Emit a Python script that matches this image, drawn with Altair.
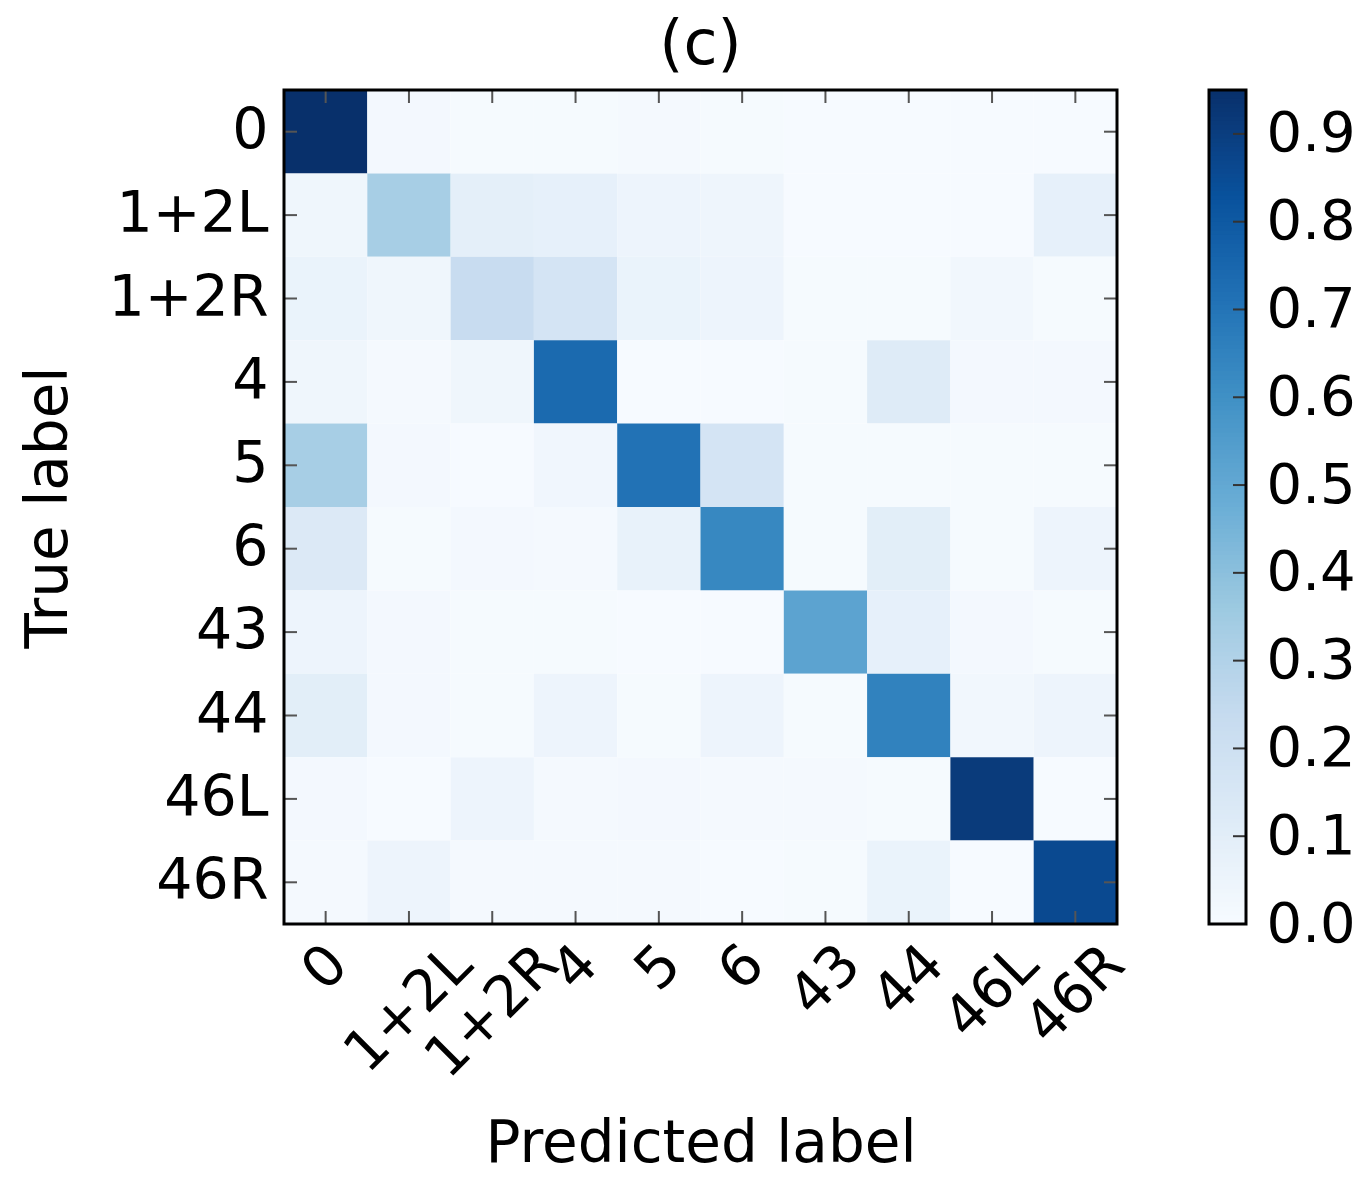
import altair as alt
import pandas as pd
import numpy as np

labels = ["0", "1+2L", "1+2R", "4", "5", "6", "43", "44", "46L", "46R"]

row_0    = [0.95, 0.02, 0.01, 0.01, 0.015, 0.01, 0.005, 0.005, 0.005, 0.005]
row_12L  = [0.04, 0.33, 0.09, 0.08, 0.05, 0.045, 0.005, 0.005, 0.005, 0.08]
row_12R  = [0.06, 0.04, 0.23, 0.17, 0.06, 0.05, 0.01, 0.01, 0.03, 0.01]
row_4    = [0.04, 0.015, 0.04, 0.74, 0.005, 0.005, 0.01, 0.12, 0.02, 0.02]
row_5    = [0.33, 0.02, 0.005, 0.035, 0.71, 0.17, 0.01, 0.01, 0.01, 0.01]
row_6    = [0.13, 0.01, 0.02, 0.015, 0.07, 0.63, 0.01, 0.10, 0.01, 0.05]
row_43   = [0.05, 0.02, 0.01, 0.01, 0.005, 0.005, 0.52, 0.08, 0.02, 0.01]
row_44   = [0.10, 0.02, 0.01, 0.05, 0.01, 0.05, 0.01, 0.65, 0.03, 0.05]
row_46L  = [0.02, 0.005, 0.05, 0.015, 0.02, 0.015, 0.015, 0.01, 0.91, 0.005]
row_46R  = [0.015, 0.05, 0.015, 0.015, 0.015, 0.005, 0.01, 0.06, 0.005, 0.86]

rows = [row_0, row_12L, row_12R, row_4, row_5, row_6, row_43, row_44, row_46L, row_46R]

cb_ticks = [0.0, 0.1, 0.2, 0.3, 0.4, 0.5, 0.6, 0.7, 0.8, 0.9]
cb_max = 0.95

blues = ["#f7fbff", "#deebf7", "#c6dbef", "#9ecae1", "#6baed6",
         "#4292c6", "#2171b5", "#08519c", "#08306b"]

records = [{"true": labels[i], "pred": labels[j], "v": rows[i][j]}
           for i in range(len(labels)) for j in range(len(labels))]
df = pd.DataFrame(records)
tick_df = pd.DataFrame({"pred": labels, "true": labels})

color_scale = alt.Scale(domain=[i * cb_max / 8 for i in range(9)], range=blues)

FONT = "DejaVu Sans"
W = 833
H = 834

# horizontal shift of rotated x labels so each rotated label box is centred on its tick
label_shift = {"0": 13, "1+2L": 54, "1+2R": 57, "4": 13, "5": 13, "6": 13,
               "43": 26, "44": 26, "46L": 37, "46R": 40}
offset_cond = {"condition": [{"test": f"datum.value == '{k}'", "value": v}
                             for k, v in label_shift.items()],
               "value": 13}

x_axis = alt.Axis(title="Predicted label", labelAngle=-45, labelAlign="right",
                  labelBaseline="middle", labelFontSize=57, titleFontSize=58,
                  labelFont=FONT, titleFont=FONT,
                  tickSize=0, domain=False, labelPadding=31, titlePadding=28,
                  labelOffset=offset_cond,
                  labelColor="black", titleColor="black", titleFontWeight="normal")
y_axis = alt.Axis(title="True label", labelFontSize=57, titleFontSize=58,
                  labelFont=FONT, titleFont=FONT,
                  tickSize=0, domain=False, labelPadding=16, titlePadding=30,
                  labelColor="black", titleColor="black", titleFontWeight="normal")
x_scale = alt.Scale(paddingInner=0, paddingOuter=0)
y_scale = alt.Scale(paddingInner=0, paddingOuter=0)

X = alt.X("pred:N", sort=labels, scale=x_scale, axis=x_axis)
Xc = alt.X("pred:N", sort=labels, scale=x_scale, axis=x_axis, bandPosition=0.5)
Y = alt.Y("true:N", sort=labels, scale=y_scale, axis=y_axis)
Yc = alt.Y("true:N", sort=labels, scale=y_scale, axis=y_axis, bandPosition=0.5)

heat = alt.Chart(df).mark_rect().encode(
    x=X, y=Y,
    color=alt.Color("v:Q", scale=color_scale, legend=None),
)

tick_color = "#555555"
tk = alt.Chart(tick_df)
t_top = tk.mark_rule(color=tick_color, strokeWidth=2).encode(x=Xc, y=alt.value(0), y2=alt.value(13))
t_bot = tk.mark_rule(color=tick_color, strokeWidth=2).encode(x=Xc, y=alt.value(H - 13), y2=alt.value(H))
t_left = tk.mark_rule(color=tick_color, strokeWidth=2).encode(y=Yc, x=alt.value(0), x2=alt.value(13))
t_right = tk.mark_rule(color=tick_color, strokeWidth=2).encode(y=Yc, x=alt.value(W - 13), x2=alt.value(W))

frame_df = pd.DataFrame({"f": [0]})
frame_main = alt.Chart(frame_df).mark_rect(filled=False, stroke="black", strokeWidth=3).encode(
    x=alt.value(0), x2=alt.value(W), y=alt.value(0), y2=alt.value(H)
)

main = alt.layer(heat, t_top, t_bot, t_left, t_right, frame_main).properties(
    width=W, height=H,
    title=alt.Title("(c)", fontSize=62, font=FONT, fontWeight="normal", color="black", offset=12),
)

steps = np.round(np.arange(0, cb_max, 0.005), 4)
cb_df = pd.DataFrame({"lo": steps, "hi": np.minimum(steps + 0.006, cb_max), "mid": steps + 0.0025})
cb_y_scale = alt.Scale(domain=[0, cb_max], nice=False, zero=True)
cb_axis = alt.Axis(orient="right", values=cb_ticks, format=".1f", labelFontSize=56,
                   labelFont=FONT,
                   tickSize=0, domain=False, grid=False, labelPadding=20, title=None,
                   labelColor="black")
cbar_rect = alt.Chart(cb_df).mark_rect().encode(
    y=alt.Y("lo:Q", scale=cb_y_scale, axis=cb_axis),
    y2="hi:Q",
    color=alt.Color("mid:Q", scale=color_scale, legend=None),
)
cb_tick_df = pd.DataFrame({"lo": cb_ticks})
cbar_ticks = alt.Chart(cb_tick_df).mark_rule(color="#333333", strokeWidth=2).encode(
    y=alt.Y("lo:Q", scale=cb_y_scale, axis=cb_axis),
    x=alt.value(24), x2=alt.value(37),
)
frame_cb = alt.Chart(frame_df).mark_rect(filled=False, stroke="black", strokeWidth=3).encode(
    x=alt.value(0), x2=alt.value(37), y=alt.value(0), y2=alt.value(H)
)
cbar = alt.layer(cbar_rect, cbar_ticks, frame_cb).properties(
    width=37, height=H,
    title=alt.Title(" ", fontSize=62, font=FONT, offset=12),
)

chart = alt.hconcat(main, cbar, spacing=72).resolve_scale(color="shared").properties(
    padding={"left": 12, "top": 5, "right": 5, "bottom": 5},
    background="white",
).configure_view(
    strokeWidth=0
).configure_axis(
    labelFont=FONT, titleFont=FONT
).configure_title(font=FONT)

chart.save("out.html", embed_options={"renderer": "svg", "actions": False})
